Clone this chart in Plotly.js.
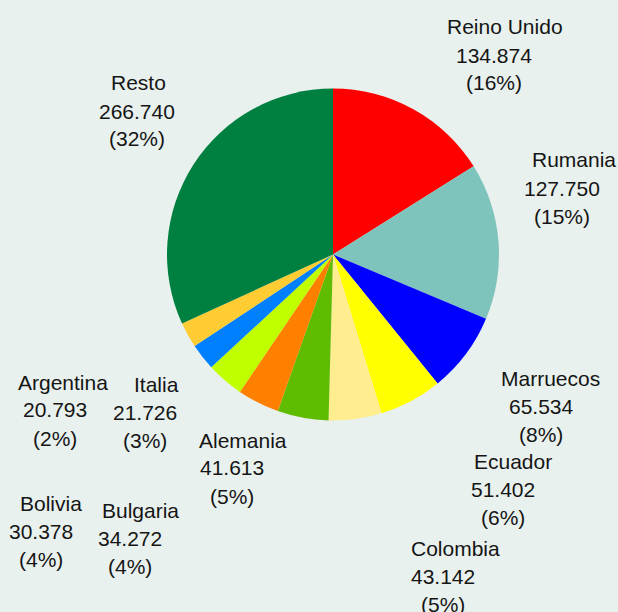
<!DOCTYPE html>
<html>
<head>
<meta charset="utf-8">
<script src="https://cdn.plot.ly/plotly-3.0.1.min.js"></script>
<style>html,body{margin:0;padding:0;background:#e9f1ee;}</style>
</head>
<body>
<div id="chart" style="width:618px;height:612px;"></div>
<script>
// Data
var countries = ["Reino Unido","Rumania","Marruecos","Ecuador","Colombia","Alemania","Bulgaria","Bolivia","Italia","Argentina","Resto"];
var values = [134874,127750,65534,51402,43142,41613,34272,30378,21726,20793,266740];
var colors = ["#ff0000","#7fc4bc","#0000ff","#ffff00","#ffed90","#60bc00","#ff8000","#c0ff00","#0080ff","#ffcc33","#008040"];

// Label layout (pixel positions): name line centre x, number lines centre x, first line y
var nameX = [505,574,550,513,455,243,140,51,156,63,138];
var numX  = [494,562,541,503,443,232,130,41,145,55,137];
var topY  = [27,160,378,461,548,440,510,503,384,382,83];
var lineGap = 28;

var W = 618, H = 612;
var total = values.reduce(function(a,b){return a+b;},0);
function fmt(v){ return String(v).replace(/\B(?=(\d{3})+(?!\d))/g, "."); }

var ann = [];
var font = {family:"Liberation Sans, Arial, sans-serif", size:21, color:"#151515"};
for (var i=0;i<countries.length;i++){
  var lines = [countries[i], fmt(values[i]), "(" + Math.round(100*values[i]/total) + "%)"];
  var xs = [nameX[i], numX[i], numX[i]];
  for (var k=0;k<3;k++){
    ann.push({text:lines[k], xref:"paper", yref:"paper",
      x: xs[k]/W, y: 1-(topY[i]+k*lineGap)/H,
      xanchor:"center", yanchor:"middle", showarrow:false, font:font});
  }
}

var cx = 333, cy = 254.5, r = 166;
var trace = {
  type:"pie", values: values, labels: countries, sort:false,
  direction:"clockwise", rotation:0, textinfo:"none", hoverinfo:"label+value+percent",
  marker:{colors:colors, line:{width:0}},
  domain:{x:[(cx-r)/W,(cx+r)/W], y:[1-(cy+r)/H, 1-(cy-r)/H]},
  showlegend:false
};
var layout = {
  width:W, height:H, margin:{l:0,r:0,t:0,b:0},
  paper_bgcolor:"#e9f1ee", plot_bgcolor:"#e9f1ee",
  showlegend:false, annotations: ann
};
Plotly.newPlot("chart",[trace],layout,{displayModeBar:false,staticPlot:true});
</script>
</body>
</html>
